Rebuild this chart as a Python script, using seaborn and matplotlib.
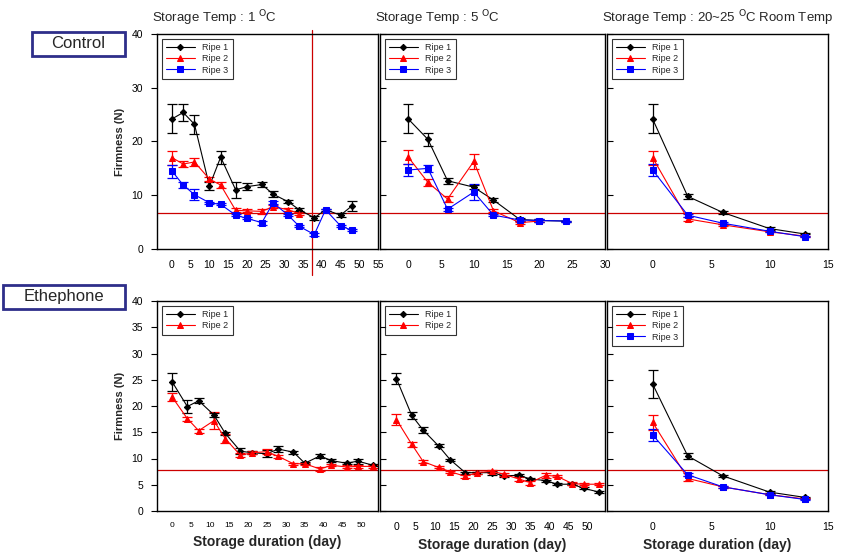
import numpy as np
import pandas as pd
import matplotlib
matplotlib.use("Agg")
import matplotlib.pyplot as plt
import seaborn as sns
from matplotlib.patches import Rectangle

sns.set_theme(style="white")
plt.rcParams['font.family'] = ['Liberation Sans', 'DejaVu Sans']

# ---------------- data ----------------
# Control, 1 C
c1_days = [0, 3, 6, 10, 13, 17, 20, 24, 27, 31, 34, 38, 41, 45, 48]
c1_r1 = [24.2, 25.4, 23.2, 11.7, 17.1, 11.0, 11.6, 12.0, 10.2, 8.8, 7.3, 5.8, 7.3, 6.3, 8.0]
c1_r1_err = [2.7, 1.6, 1.8, 0.8, 1.2, 1.5, 0.7, 0.5, 0.6, 0.3, 0.3, 0.4, 0.2, 0.4, 0.9]
c1_r2_days = [0, 3, 6, 10, 13, 17, 20, 24, 27, 31, 34]
c1_r2 = [17.0, 15.8, 16.2, 13.0, 11.9, 7.2, 7.1, 7.0, 7.9, 7.3, 6.6]
c1_r2_err = [1.3, 0.5, 0.8, 0.4, 0.5, 0.4, 0.3, 0.4, 0.3, 0.3, 0.3]
c1_r3 = [14.5, 11.9, 10.1, 8.6, 8.3, 6.3, 5.7, 4.9, 8.6, 6.3, 4.2, 2.7, 7.3, 4.3, 3.5]
c1_r3_err = [1.2, 0.5, 1.0, 0.2, 0.2, 0.2, 0.2, 0.4, 0.3, 0.2, 0.2, 0.2, 0.2, 0.2, 0.2]

# Control, 5 C
c5_days = [0, 3, 6, 10, 13, 17, 20, 24]
c5_r1 = [24.2, 20.4, 12.7, 11.5, 9.1, 5.5, 5.3, 5.2]
c5_r1_err = [2.7, 1.2, 0.6, 0.4, 0.3, 0.2, 0.2, 0.1]
c5_r2_days = [0, 3, 6, 10, 13, 17, 20]
c5_r2 = [17.1, 12.4, 9.3, 16.3, 7.1, 4.9, 5.2]
c5_r2_err = [1.3, 0.7, 0.6, 1.4, 0.3, 0.2, 0.2]
c5_r3 = [14.7, 15.0, 7.4, 10.6, 6.3, 5.4, 5.3, 5.2]
c5_r3_err = [1.2, 0.7, 0.3, 1.5, 0.2, 0.2, 0.2, 0.1]

# Control, room temp
cr_days = [0, 3, 6, 10, 13]
cr_r1 = [24.2, 9.8, 6.8, 3.8, 2.8]
cr_r1_err = [2.7, 0.5, 0.2, 0.2, 0.1]
cr_r2 = [17.0, 5.6, 4.5, 3.2, 2.4]
cr_r2_err = [1.3, 0.3, 0.2, 0.1, 0.1]
cr_r3 = [14.7, 6.3, 4.8, 3.3, 2.3]
cr_r3_err = [1.1, 0.3, 0.2, 0.1, 0.1]

# Ethephone, 1 C
e_days = [0, 4, 7, 11, 14, 18, 21, 25, 28, 32, 35, 39, 42, 46, 49, 53]
e1_r1 = [24.6, 19.9, 21.0, 18.3, 14.8, 11.4, 11.1, 10.9, 11.8, 11.2, 9.1, 10.5, 9.6, 9.1, 9.5, 8.7]
e1_r1_err = [1.75, 1.2, 0.5, 0.4, 0.3, 0.6, 0.3, 0.7, 0.6, 0.3, 0.2, 0.4, 0.3, 0.2, 0.5, 0.2]
e1_r2 = [21.7, 17.6, 15.3, 17.2, 13.8, 10.6, 11.1, 11.3, 10.4, 9.0, 9.0, 8.0, 8.7, 8.4, 8.5, 8.5]
e1_r2_err = [0.8, 0.4, 0.4, 1.6, 0.8, 0.4, 0.3, 0.5, 0.3, 0.2, 0.2, 0.3, 0.2, 0.3, 0.3, 0.3]

# Ethephone, 5 C
e5_r1 = [25.2, 18.2, 15.4, 12.4, 9.8, 7.3, 7.3, 7.3, 6.7, 6.8, 6.1, 5.8, 5.1, 5.1, 4.3, 3.6]
e5_r1_err = [1.1, 0.7, 0.6, 0.3, 0.2, 0.2, 0.2, 0.4, 0.2, 0.2, 0.2, 0.2, 0.2, 0.2, 0.2, 0.2]
e5_r2 = [17.4, 12.7, 9.4, 8.3, 7.5, 6.6, 7.3, 7.6, 7.0, 6.1, 5.4, 6.8, 6.6, 5.2, 5.1, 5.1]
e5_r2_err = [1.1, 0.5, 0.3, 0.2, 0.2, 0.3, 0.2, 0.3, 0.3, 0.3, 0.4, 0.5, 0.2, 0.3, 0.2, 0.2]

# Ethephone, room temp
er_days = [0, 3, 6, 10, 13]
er_r1 = [24.2, 10.5, 6.7, 3.6, 2.6]
er_r1_err = [2.7, 0.6, 0.2, 0.2, 0.1]
er_r2 = [16.9, 6.2, 4.6, 3.1, 2.3]
er_r2_err = [1.4, 0.5, 0.2, 0.1, 0.1]
er_r3 = [14.5, 6.9, 4.6, 3.1, 2.2]
er_r3_err = [1.2, 0.3, 0.2, 0.1, 0.1]

titles = ["Storage Temp : 1 $^{\\mathrm{O}}$C", "Storage Temp : 5 $^{\\mathrm{O}}$C",
          "Storage Temp : 20~25 $^{\\mathrm{O}}$C Room Temp"]
series_names = ["Ripe 1", "Ripe 2", "Ripe 3"]
colors = ["#000000", "#ff0000", "#0000ff"]
markers = ["D", "^", "s"]
msizes = [3.2, 4.6, 4.6]

control_threshold = 6.7
ethephone_threshold = 7.8
cut_day = 37.5

# ---------------- layout ----------------
W, H = 849, 554
fig = plt.figure(figsize=(W / 100, H / 100), dpi=100)

cols = [(157, 378), (380, 605), (607, 828)]
rows = [(34, 249), (301, 511)]

def make_ax(r, c):
    x0, x1 = cols[c]
    y0, y1 = rows[r]
    return fig.add_axes([x0 / W, 1 - y1 / H, (x1 - x0) / W, (y1 - y0) / H])

def draw(ax, series):
    for i, (d, v, e) in enumerate(series):
        df = pd.DataFrame({"day": d, "val": v})
        ax.errorbar(d, v, yerr=e, fmt='none', ecolor=colors[i], elinewidth=0.9,
                    capsize=3.5, capthick=0.9, zorder=2)
        sns.lineplot(data=df, x="day", y="val", ax=ax, color=colors[i], marker=markers[i],
                     markersize=msizes[i], markeredgecolor=colors[i], linewidth=0.8,
                     sort=False, label=series_names[i], zorder=3)
    leg = ax.legend(loc="upper left", fontsize=6.5, frameon=True, fancybox=False,
                    edgecolor="black", handlelength=3.2, borderaxespad=0.5,
                    labelspacing=0.25, borderpad=0.5)
    leg.get_frame().set_linewidth(0.8)

def style(ax, xlim, xticks, ylim_ticks, show_y, xfs=7.5):
    ax.set_xlim(*xlim)
    ax.set_ylim(0, 40)
    ax.set_xticks(xticks)
    ax.set_yticks(ylim_ticks)
    ax.set_xlabel("")
    ax.set_ylabel("")
    for s in ax.spines.values():
        s.set_color("black")
        s.set_linewidth(1.0)
    ax.tick_params(axis='x', length=0, pad=8, labelsize=xfs, colors='black')
    ax.tick_params(axis='y', length=4, width=0.8, direction='out', labelsize=7.5,
                   colors='black', left=True, pad=6)
    if not show_y:
        ax.tick_params(axis='y', labelleft=False, direction='in')
    ax.grid(False)

# top row
ax = make_ax(0, 0)
draw(ax, [(c1_days, c1_r1, c1_r1_err), (c1_r2_days, c1_r2, c1_r2_err), (c1_days, c1_r3, c1_r3_err)])
style(ax, (-4, 55), np.arange(0, 56, 5), [0, 10, 20, 30, 40], True)
ax.axhline(control_threshold, color="#cc0000", lw=0.9, zorder=1)
ax.axvline(cut_day, ymin=-0.12, ymax=1.02, color="#cc0000", lw=0.9, clip_on=False, zorder=1)
ax.set_ylabel("Firmness (N)", fontsize=8, fontweight='bold', labelpad=5)

ax = make_ax(0, 1)
draw(ax, [(c5_days, c5_r1, c5_r1_err), (c5_r2_days, c5_r2, c5_r2_err), (c5_days, c5_r3, c5_r3_err)])
style(ax, (-4.3, 30), np.arange(0, 31, 5), [0, 10, 20, 30, 40], False)
ax.axhline(control_threshold, color="#cc0000", lw=0.9, zorder=1)

ax = make_ax(0, 2)
draw(ax, [(cr_days, cr_r1, cr_r1_err), (cr_days, cr_r2, cr_r2_err), (cr_days, cr_r3, cr_r3_err)])
style(ax, (-3.9, 15), np.arange(0, 16, 5), [0, 10, 20, 30, 40], False)
ax.axhline(control_threshold, color="#cc0000", lw=0.9, zorder=1)

# bottom row
ax = make_ax(1, 0)
draw(ax, [(e_days, e1_r1, e1_r1_err), (e_days, e1_r2, e1_r2_err)])
style(ax, (-4, 54.3), np.arange(0, 51, 5), np.arange(0, 41, 5), True, xfs=6)
ax.axhline(ethephone_threshold, color="#cc0000", lw=0.9, zorder=1)
ax.set_ylabel("Firmness (N)", fontsize=8, fontweight='bold', labelpad=5)
ax.set_xlabel("Storage duration (day)", fontsize=10, fontweight='bold', labelpad=4)

ax = make_ax(1, 1)
draw(ax, [(e_days, e5_r1, e5_r1_err), (e_days, e5_r2, e5_r2_err)])
style(ax, (-4.3, 54.5), np.arange(0, 51, 5), np.arange(0, 41, 5), False)
ax.axhline(ethephone_threshold, color="#cc0000", lw=0.9, zorder=1)
ax.set_xlabel("Storage duration (day)", fontsize=10, fontweight='bold', labelpad=4)

ax = make_ax(1, 2)
draw(ax, [(er_days, er_r1, er_r1_err), (er_days, er_r2, er_r2_err), (er_days, er_r3, er_r3_err)])
style(ax, (-3.9, 15), np.arange(0, 16, 5), np.arange(0, 41, 5), False)
ax.axhline(ethephone_threshold, color="#cc0000", lw=0.9, zorder=1)
ax.set_xlabel("Storage duration (day)", fontsize=10, fontweight='bold', labelpad=4)

# titles
for (x0, x1), t in zip(cols, titles):
    fig.text(x0 / W - 0.006, 1 - 18 / H, t, fontsize=9.5, ha='left', va='center')

# boxed group labels
def box_label(x0, y0, x1, y1, text):
    fig.patches.append(Rectangle((x0 / W, 1 - y1 / H), (x1 - x0) / W, (y1 - y0) / H,
                                 transform=fig.transFigure, fill=False,
                                 edgecolor="#2e2e8a", linewidth=2))
    fig.text((x0 + x1) / 2 / W, 1 - (y0 + y1) / 2 / H, text, fontsize=12,
             ha='center', va='center')

box_label(32, 32, 125, 56, "Control")
box_label(3, 285, 125, 309, "Ethephone")

fig.savefig("out.png", dpi=100)
